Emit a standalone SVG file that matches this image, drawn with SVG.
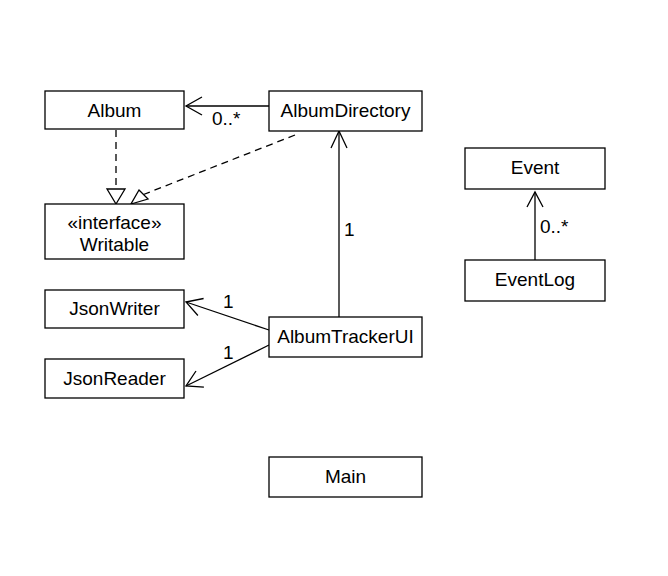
<svg xmlns="http://www.w3.org/2000/svg" width="668" height="576" viewBox="0 0 668 576">
<style>
.box{fill:#fff;stroke:#000;stroke-width:1.3}
text{font-family:"Liberation Sans",Arial,sans-serif;font-size:19px;fill:#000}
.c{text-anchor:middle}
.ln{fill:none;stroke:#000;stroke-width:1.3}
.dash{fill:none;stroke:#000;stroke-width:1.3;stroke-dasharray:7,5}
.tri{fill:#fff;stroke:#000;stroke-width:1.3}
</style>
<rect width="668" height="576" fill="#fff"/>
<g id="connectors">
<line class="ln" x1="269" y1="106" x2="186" y2="106"/>
<polyline class="ln" points="202,97 186,106 202,115"/>
<text x="212" y="125">0..*</text>
<line class="dash" x1="116" y1="130" x2="116" y2="189"/>
<polygon class="tri" points="107,189 125,189 116,204"/>
<line class="dash" x1="295" y1="135" x2="143.5" y2="194.5"/>
<polygon class="tri" points="139,190 148,199 131,204"/>
<line class="ln" x1="339" y1="317" x2="339" y2="131"/>
<polyline class="ln" points="331,148 339,131 347,148"/>
<text x="344" y="236">1</text>
<line class="ln" x1="269" y1="330" x2="186" y2="302"/>
<polyline class="ln" points="203.6,298.5 186,302 197.9,315.5"/>
<text x="223" y="308">1</text>
<line class="ln" x1="269" y1="345" x2="186" y2="386"/>
<polyline class="ln" points="196,371 186,386 203.9,387.2"/>
<text x="223" y="359">1</text>
<line class="ln" x1="535" y1="260" x2="535" y2="192"/>
<polyline class="ln" points="527,207 535,192 543,207"/>
<text x="540" y="233">0..*</text>
</g>
<g id="Album"><rect class="box" x="45" y="91" width="139" height="38"/><text class="c" x="114.5" y="117">Album</text></g>
<g id="AlbumDirectory"><rect class="box" x="269" y="91" width="153" height="40"/><text class="c" x="345.5" y="117">AlbumDirectory</text></g>
<g id="Writable"><rect class="box" x="45" y="204" width="139" height="55"/><text class="c" x="114.5" y="229">«interface»</text><text class="c" x="114.5" y="251">Writable</text></g>
<g id="JsonWriter"><rect class="box" x="45" y="290" width="139" height="38"/><text class="c" x="114.5" y="315">JsonWriter</text></g>
<g id="JsonReader"><rect class="box" x="45" y="359" width="139" height="39"/><text class="c" x="114.5" y="385">JsonReader</text></g>
<g id="AlbumTrackerUI"><rect class="box" x="269" y="317" width="153" height="40"/><text class="c" x="345.5" y="343">AlbumTrackerUI</text></g>
<g id="Main"><rect class="box" x="269" y="457" width="153" height="40"/><text class="c" x="345.5" y="483">Main</text></g>
<g id="Event"><rect class="box" x="465" y="148" width="140" height="41"/><text class="c" x="535" y="174">Event</text></g>
<g id="EventLog"><rect class="box" x="465" y="260" width="140" height="41"/><text class="c" x="535" y="286">EventLog</text></g>
</svg>
